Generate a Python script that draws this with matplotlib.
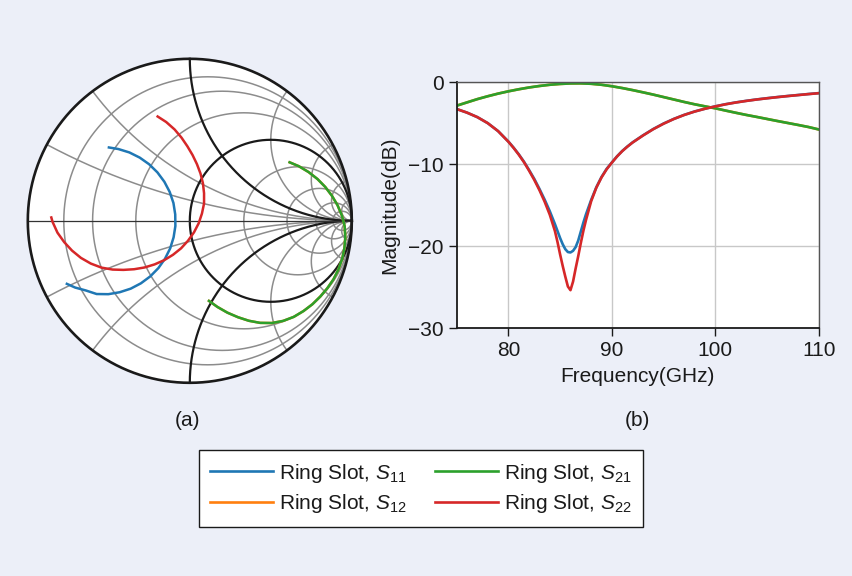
import numpy as np
import matplotlib
matplotlib.use('Agg')
import matplotlib.pyplot as plt
from matplotlib.patches import Circle

plt.rcParams['font.family'] = ['Liberation Sans', 'DejaVu Sans']
plt.rcParams['mathtext.fontset'] = 'custom'
plt.rcParams['mathtext.rm'] = 'Liberation Sans'
plt.rcParams['mathtext.it'] = 'Liberation Sans:italic'
plt.rcParams['axes.unicode_minus'] = True

# ---------------- data ----------------
freq_refl = [75, 76, 77, 78, 79, 80, 80.5, 81, 81.5, 82, 82.5, 83, 83.5, 84,
             84.5, 84.75, 85, 85.25, 85.5, 85.75, 86, 86.25, 86.5, 86.75, 87,
             87.25, 87.5, 88, 88.5, 89, 89.5, 90, 90.5, 91, 91.5, 92, 93, 94,
             95, 96, 97, 98, 99, 100, 101, 102, 103, 104, 105, 106, 107, 108,
             109, 110]
s11_db = [-3.26, -3.7, -4.25, -4.98, -5.95, -7.23, -7.97, -8.78, -9.68, -10.7,
          -11.78, -13.0, -14.3, -15.72, -17.3, -18.15, -19.0, -19.75, -20.35,
          -20.7, -20.75, -20.55, -20.1, -19.3, -18.2, -17.1, -16.1, -14.35,
          -12.8, -11.55, -10.55, -9.78, -9.03, -8.38, -7.83, -7.33, -6.48,
          -5.7, -5.03, -4.46, -3.97, -3.56, -3.22, -2.93, -2.67, -2.45, -2.26,
          -2.09, -1.94, -1.8, -1.67, -1.55, -1.43, -1.32]
s22_db = [-3.26, -3.7, -4.25, -4.98, -5.95, -7.25, -8.0, -8.82, -9.73, -10.78,
          -11.9, -13.15, -14.55, -16.15, -18.15, -19.5, -21.0, -22.4, -23.7,
          -24.9, -25.35, -24.3, -22.7, -21.2, -19.6, -18.1, -16.8, -14.5,
          -12.85, -11.6, -10.6, -9.8, -9.05, -8.4, -7.85, -7.35, -6.5, -5.72,
          -5.05, -4.47, -3.98, -3.57, -3.23, -2.94, -2.68, -2.46, -2.27, -2.1,
          -1.95, -1.81, -1.68, -1.56, -1.44, -1.33]
freq_s21 = [75, 76, 77, 78, 79, 80, 81, 82, 83, 84, 85, 86, 87, 88, 89, 90, 91,
            92, 93, 94, 95, 96, 97, 98, 99, 100, 101, 102, 103, 104, 105, 106,
            107, 108, 109, 110]
s21_db = [-2.85, -2.45, -2.05, -1.7, -1.38, -1.1, -0.85, -0.63, -0.45, -0.3,
          -0.2, -0.14, -0.13, -0.18, -0.3, -0.48, -0.7, -0.95, -1.22, -1.5, -1.8,
          -2.1, -2.4, -2.68, -2.93, -3.17, -3.45, -3.72, -3.98, -4.22, -4.47,
          -4.72, -4.96, -5.2, -5.45, -5.75]
s12_db = list(s21_db)

# Smith chart traces (real & imaginary part of each S-parameter)
smith_s11_re = [-0.507, -0.441, -0.373, -0.309, -0.251, -0.200, -0.157, -0.124,
                -0.101, -0.090, -0.089, -0.100, -0.121, -0.153, -0.194, -0.244,
                -0.302, -0.365, -0.433, -0.503, -0.575, -0.642, -0.708, -0.766]
smith_s11_im = [0.454, 0.443, 0.422, 0.390, 0.349, 0.299, 0.241, 0.178, 0.110,
                0.040, -0.032, -0.102, -0.170, -0.234, -0.292, -0.343, -0.386,
                -0.419, -0.441, -0.453, -0.452, -0.430, -0.412, -0.386]
smith_s22_re = [-0.205, -0.146, -0.094, -0.051, -0.015, 0.017, 0.044, 0.066,
                0.081, 0.088, 0.088, 0.075, 0.055, 0.026, -0.011, -0.054,
                -0.104, -0.158, -0.217, -0.279, -0.344, -0.410, -0.477, -0.545,
                -0.611, -0.672, -0.727, -0.775, -0.817, -0.847, -0.857]
smith_s22_im = [0.648, 0.610, 0.564, 0.513, 0.460, 0.406, 0.350, 0.292, 0.232,
                0.170, 0.107, 0.045, -0.015, -0.071, -0.123, -0.170, -0.210,
                -0.243, -0.269, -0.288, -0.299, -0.303, -0.301, -0.289, -0.264,
                -0.229, -0.184, -0.132, -0.073, -0.007, 0.028]
smith_s21_re = [0.609, 0.673, 0.733, 0.788, 0.836, 0.877, 0.912, 0.939, 0.956,
                0.960, 0.954, 0.940, 0.917, 0.887, 0.849, 0.806, 0.757, 0.702,
                0.642, 0.576, 0.506, 0.434, 0.364, 0.297, 0.232, 0.171, 0.112]
smith_s21_im = [0.364, 0.337, 0.301, 0.258, 0.209, 0.155, 0.096, 0.032, -0.034,
                -0.103, -0.171, -0.237, -0.301, -0.361, -0.416, -0.467, -0.515,
                -0.557, -0.593, -0.618, -0.631, -0.630, -0.617, -0.595, -0.567,
                -0.532, -0.490]
smith_s12_re = list(smith_s21_re)
smith_s12_im = list(smith_s21_im)

labels = [r'Ring Slot, $S_{11}$', r'Ring Slot, $S_{12}$',
          r'Ring Slot, $S_{21}$', r'Ring Slot, $S_{22}$']
colors = ['#1f77b4', '#ff7f0e', '#2ca02c', '#d62728']

r_grid = [0.125, 0.25, 0.5, 2, 4, 8, 16]
x_grid = [0.25, 0.5, 2, 4, 8, 16]

x_ticks = [80, 90, 100, 110]
y_ticks = [0, -10, -20, -30]

# ---------------- figure ----------------
W, H = 852, 576
bg = '#ECEFF8'
fig = plt.figure(figsize=(W / 100, H / 100), dpi=100, facecolor=bg)
FS = 15

# ---- Smith chart (a) ----
cx, cy, R = 189.8, 220.8, 162.0
L = 1.03
ax_a = fig.add_axes([(cx - L * R) / W, (H - cy - L * R) / H, 2 * L * R / W, 2 * L * R / H])
ax_a.set_xlim(-L, L)
ax_a.set_ylim(-L, L)
ax_a.set_aspect('equal')
ax_a.axis('off')
ax_a.add_patch(Circle((0, 0), 1, facecolor='white', edgecolor='none', zorder=0))

gray = '#8c8c8c'
t = np.linspace(0, 2 * np.pi, 1441)
for r in r_grid:
    c = r / (1 + r)
    rad = 1 / (1 + r)
    ax_a.plot(c + rad * np.cos(t), rad * np.sin(t), color=gray, lw=1.1, zorder=1)
rr = np.concatenate([[0], np.logspace(-3, 5, 2000)])
for xv in x_grid:
    for s in (1, -1):
        z = rr + 1j * s * xv
        g = (z - 1) / (z + 1)
        ax_a.plot(g.real, g.imag, color=gray, lw=1.1, zorder=1)
# emphasised r=1, x=+-1
ax_a.plot(0.5 + 0.5 * np.cos(t), 0.5 * np.sin(t), color='#1a1a1a', lw=1.6, zorder=2)
for s in (1, -1):
    z = rr + 1j * s * 1.0
    g = (z - 1) / (z + 1)
    ax_a.plot(g.real, g.imag, color='#1a1a1a', lw=1.6, zorder=2)
ax_a.plot([-1, 1], [0, 0], color='#333333', lw=0.9, zorder=2)
ax_a.plot(np.cos(t), np.sin(t), color='#1a1a1a', lw=1.9, zorder=3)

kw = dict(lw=1.8, zorder=4, solid_capstyle='butt', solid_joinstyle='round')
ax_a.plot(smith_s11_re, smith_s11_im, color=colors[0], **kw)
ax_a.plot(smith_s12_re, smith_s12_im, color=colors[1], **kw)
ax_a.plot(smith_s21_re, smith_s21_im, color=colors[2], **kw)
ax_a.plot(smith_s22_re, smith_s22_im, color=colors[3], **kw)

# ---- Magnitude plot (b) ----
x0, x1, y0, y1 = 456.7, 818.7, 82.3, 328.3
ax_b = fig.add_axes([x0 / W, 1 - y1 / H, (x1 - x0) / W, (y1 - y0) / H])
ax_b.set_facecolor('white')
ax_b.set_xlim(75, 110)
ax_b.set_ylim(-30, 0)
ax_b.set_xticks(x_ticks)
ax_b.set_yticks(y_ticks)
ax_b.grid(True, color='#c8c8c8', lw=1.0)
ax_b.set_axisbelow(True)
for sp in ['top', 'right']:
    ax_b.spines[sp].set_color('#555555')
    ax_b.spines[sp].set_linewidth(1.0)
for sp in ['left', 'bottom']:
    ax_b.spines[sp].set_color('#1a1a1a')
    ax_b.spines[sp].set_linewidth(1.3)
ax_b.tick_params(direction='out', length=5.5, width=1.0, labelsize=FS, pad=4,
                 colors='#1a1a1a')
lkw = dict(lw=1.9, solid_joinstyle='round')
lines = []
lines += ax_b.plot(freq_refl, s11_db, color=colors[0], **lkw)
lines += ax_b.plot(freq_s21, s12_db, color=colors[1], **lkw)
lines += ax_b.plot(freq_s21, s21_db, color=colors[2], **lkw)
lines += ax_b.plot(freq_refl, s22_db, color=colors[3], **lkw)
ax_b.set_xlabel('Frequency(GHz)', fontsize=FS, labelpad=5, color='#1a1a1a')
ax_b.set_ylabel('Magnitude(dB)', fontsize=FS, labelpad=6, color='#1a1a1a')

fig.text(188 / W, 1 - 421 / H, '(a)', fontsize=FS, ha='center', va='center', color='#1a1a1a')
fig.text(637 / W, 1 - 421 / H, '(b)', fontsize=FS, ha='center', va='center', color='#1a1a1a')

leg = fig.legend(lines, labels, ncol=2, loc='center',
                 bbox_to_anchor=(421 / W, 1 - 488.5 / H), fontsize=FS,
                 frameon=True, fancybox=False, edgecolor='#1a1a1a', framealpha=1,
                 handlelength=3.0, handletextpad=0.3, columnspacing=1.35,
                 labelspacing=0.38, borderpad=0.55, borderaxespad=0)
leg.get_frame().set_linewidth(1.0)
for txt in leg.get_texts():
    txt.set_color('#1a1a1a')

fig.savefig('out.png', dpi=100, facecolor=bg)
